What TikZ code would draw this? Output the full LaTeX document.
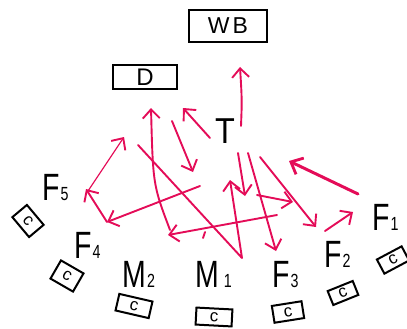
\documentclass[tikz,border=0pt]{standalone}
\usepackage{fontspec}
\setmainfont{Liberation Sans}
\usetikzlibrary{arrows.meta}
\definecolor{arr}{RGB}{228,12,88}
\newcommand{\sbs}[1]{\kern1.5pt{\fontsize{19}{19}\selectfont #1}}
\tikzset{
  blackbox/.style={draw=black, line width=2.2pt, inner sep=0pt},
  cbox/.style={draw=black, line width=2pt, inner sep=0pt, minimum width=25pt, minimum height=17pt, font=\fontsize{17}{17}\selectfont},
  lbl/.style={inner sep=0pt, anchor=base west, font=\fontsize{38}{40}\selectfont, xscale=0.75},
  arrw/.style={draw=arr, line width=1.9pt, line cap=round, line join=round,
    -{Straight Barb[length=9pt,width=17pt,line width=1.9pt]}},
  thinarrw/.style={arrw, line width=1.2pt},
  thickarrw/.style={arrw, line width=3pt,
    -{Straight Barb[length=10pt,width=18pt,line width=2.8pt]}},
}
\begin{document}
\begin{tikzpicture}[x=1pt,y=-1pt]
\useasboundingbox (0,0) rectangle (407,329);
% top boxes
\node[blackbox, minimum width=78pt, minimum height=32pt, font=\fontsize{23}{23}\selectfont] (WB) at (228,26) {W\kern3pt B};
\node[blackbox, minimum width=64pt, minimum height=24pt, font=\fontsize{24}{24}\selectfont] (D) at (145,77) {\raisebox{-3pt}{D}};
\node[inner sep=0pt, anchor=base west, font=\fontsize{36}{36}\selectfont, xscale=0.9] (T) at (215,143) {T};
% labels
\node[lbl] (F5) at (42,200) {F\sbs{5}};
\node[lbl] (F4) at (74,258) {F\sbs{4}};
\node[lbl] (M2) at (122,287) {M\sbs{2}};
\node[lbl] (M1) at (195,287) {M\kern5pt\sbs{1}};
\node[lbl] (F3) at (272,287) {F\sbs{3}};
\node[lbl] (F2) at (324,267) {F\sbs{2}};
\node[lbl] (F1) at (372,230) {F\sbs{1}};
% c boxes
\node[cbox, rotate=-50, minimum width=26pt, minimum height=19pt] (c5) at (28,221) {c};
\node[cbox, rotate=-30, minimum width=26pt, minimum height=21pt] (c4) at (67,276) {c};
\node[cbox, rotate=-13, minimum width=34pt] (cm2) at (134,306) {c};
\node[cbox, rotate=-3, minimum width=36pt] (cm1) at (214,317) {c};
\node[cbox, rotate=9, minimum width=30pt] (c3) at (288,312) {c};
\node[cbox, rotate=22, minimum width=27pt, minimum height=15pt] (c2) at (343,293) {c};
\node[cbox, rotate=28, minimum width=28pt, minimum height=16pt] (c1) at (393,260) {c};
% arrow end points
\coordinate (a1s) at (241,126); \coordinate (a1e) at (240,67);
\coordinate (a2s) at (210,138); \coordinate (a2e) at (183,108);
\coordinate (a3s) at (172,121); \coordinate (a3e) at (193,172);
\coordinate (a4s) at (170,230); \coordinate (a4e) at (151,108);
\coordinate (a5s) at (138,145); \coordinate (a5m) at (242,258); \coordinate (a5e) at (230,180);
\coordinate (a6s) at (88,191);  \coordinate (a6e) at (124,137);
\coordinate (a7s) at (107,222); \coordinate (a7e) at (86,189);
\coordinate (a8s) at (200,186); \coordinate (a8e) at (107,222);
\coordinate (a9s) at (277,215); \coordinate (a9e) at (168,235);
\coordinate (a10s) at (257,195); \coordinate (a10e) at (293,202);
\coordinate (a11s) at (238,153); \coordinate (a11e) at (245,196);
\coordinate (a12s) at (248,153); \coordinate (a12e) at (276,251);
\coordinate (a13s) at (260,157); \coordinate (a13e) at (316,227);
\coordinate (a14s) at (358,194); \coordinate (a14e) at (289,161);
\coordinate (a15s) at (325,231); \coordinate (a15e) at (353,212);
\coordinate (tk1) at (205,232); \coordinate (tk2) at (203,238);
% arrows
\draw[arrw] (a1s) .. controls (242,100) .. (a1e);
\draw[arrw] (a2s) -- (a2e);
\draw[arrw] (a3s) -- (a3e);
\draw[arrw] (a4s) .. controls (153,185) .. (a4e);
\draw[arrw] (a5s) -- (a5m) -- (a5e);
\draw[thinarrw] (a6s) -- (a6e);
\draw[arrw] (a7s) -- (a7e);
\draw[arrw] (a8s) -- (a8e);
\draw[arrw] (a9s) -- (a9e);
\draw[arrw] (a10s) -- (a10e);
\draw[arrw] (a11s) -- (a11e);
\draw[arrw] (a12s) -- (a12e);
\draw[arrw] (a13s) -- (a13e);
\draw[thickarrw] (a14s) -- (a14e);
\draw[arrw] (a15s) -- (a15e);
\draw[draw=arr, line width=1.9pt, line cap=round] (tk1) -- (tk2);
\end{tikzpicture}
\end{document}
